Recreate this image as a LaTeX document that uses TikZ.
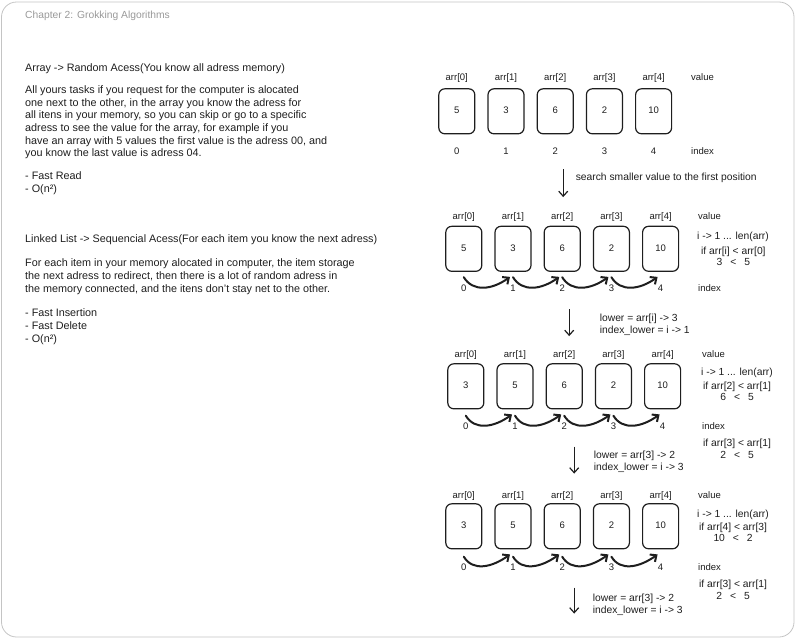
\documentclass[tikz,border=0pt]{standalone}
\usepackage{fontspec}
\setmainfont{Liberation Sans}
\usetikzlibrary{matrix,arrows.meta,backgrounds,positioning}

\definecolor{ink}{HTML}{1E1E1E}
\definecolor{framegray}{HTML}{C4C4C4}

\tikzset{
  note/.style={anchor=north west, inner sep=0pt, align=left, text=ink,
    font=\fontsize{10.8}{12.7}\selectfont},
  small/.style={inner sep=0pt, align=left, text=ink,
    font=\fontsize{10.3}{11.8}\selectfont},
  cell/.style={draw=ink, line width=1.2pt, rounded corners=6pt,
    minimum width=36pt, minimum height=45pt},
  arr/.style={matrix of nodes, anchor=north west, inner sep=0pt,
    column sep=12pt, row sep=3pt,
    nodes={text=ink, font=\fontsize{9.5}{11}\selectfont, inner sep=1pt,
      text height=7pt, text depth=2pt},
    row 2/.style={nodes={cell}}},
  swoosh/.style={->, line width=2pt, line cap=round, draw=ink},
  down/.style={->, line width=1.2pt, draw=ink},
}

\begin{document}
\begin{tikzpicture}[x=1pt, y=1pt, >={Straight Barb[length=5pt, width=9pt]}]
  \useasboundingbox (0,0) rectangle (796,-640);
  \draw[framegray, line width=0.8pt, rounded corners=15pt] (1.5,-2) rectangle (794,-637);

  % left column
  \node[note, text=gray!80, font=\fontsize{10.3}{12}\selectfont] (title) at (25,-11) {Chapter 2: Grokking Algorithms};

  \node[note] (arrtxt) at (25,-63) {Array -> Random Acess(You know all adress memory)\\[9.7pt]
    All yours tasks if you request for the computer is alocated\\
    one next to the other, in the array you know the adress for\\
    all itens in your memory, so you can skip or go to a specific\\
    adress to see the value for the array, for example if you\\
    have an array with 5 values the first value is the adress 00, and\\
    you know the last value is adress 04.\\[10pt]
    - Fast Read\\
    - O(n²)};

  \node[note] (listtxt) at (25,-234) {Linked List -> Sequencial Acess(For each item you know the next adress)\\[12pt]
    For each item in your memory alocated in computer, the item storage\\
    the next adress to redirect, then there is a lot of random adress in\\
    the memory connected, and the itens don't stay net to the other.\\[12pt]
    - Fast Insertion\\
    - Fast Delete\\
    - O(n²)};

  % array before the search
  \matrix (a1) [arr] at (438,-72.5) {
    arr[0] & arr[1] & arr[2] & arr[3] & arr[4] &[6pt] value \\[1.5pt]
    5 & 3 & 6 & 2 & 10 \\[9pt]
    0 & 1 & 2 & 3 & 4 & index \\
  };
  \draw[down] ([xshift=8pt,yshift=-11.5pt]a1-3-3.south) -- ++(0,-28)
    node[small, pos=0.3, right=12pt] {search smaller value to the first position};

  % step i = 1
  \matrix (a2) [arr] at (445,-211.5) {
    arr[0] & arr[1] & arr[2] & arr[3] & arr[4] &[6pt] value \\
    5 & 3 & 6 & 2 & 10 \\[8.5pt]
    0 & 1 & 2 & 3 & 4 & index \\
  };
  \node[small, below=13.5pt of a2-1-6.south west, anchor=west] (loop2) {i -> 1 ... len(arr)};
  \node[small, align=center, below=5pt of loop2.south west, anchor=north west, xshift=4pt] (test2) {if arr[i] < arr[0]\\3\hspace{8pt}<\hspace{8pt}5};
  \foreach \i/\j in {1/2,2/3,3/4,4/5}
    \draw[swoosh] ([xshift=0pt,yshift=6pt]a2-3-\i.north) .. controls +(9,-15) and +(-18,-13) .. ([xshift=-3pt,yshift=-5pt]a2-2-\j.south);
  \draw[down] ([xshift=7pt,yshift=-14.5pt]a2-3-3.south) -- ++(0,-27)
    node[small, pos=0.57, right=30pt] {lower = arr[i] -> 3\\index\_lower = i -> 1};

  % step i = 2, 3
  \matrix (a3) [arr] at (447,-349.5) {
    arr[0] & arr[1] & arr[2] & arr[3] & arr[4] &[8pt] value \\[-0.5pt]
    3 & 5 & 6 & 2 & 10 \\[9.5pt]
    0 & 1 & 2 & 3 & 4 & index \\
  };
  \node[small, below=11.5pt of a3-1-6.south west, anchor=west] (loop3) {i -> 1 ... len(arr)};
  \node[small, align=center, below=4pt of loop3.south west, anchor=north west, xshift=2pt] (test3) {if arr[2] < arr[1]\\6\hspace{8pt}<\hspace{8pt}5};
  \node[small, align=center, below=6pt of a3-3-6.south west, anchor=north west, xshift=2pt] (test3b) {if arr[3] < arr[1]\\2\hspace{8pt}<\hspace{8pt}5};
  \foreach \i/\j in {1/2,2/3,3/4,4/5}
    \draw[swoosh] ([xshift=0pt,yshift=6pt]a3-3-\i.north) .. controls +(9,-15) and +(-18,-13) .. ([xshift=-3pt,yshift=-5pt]a3-2-\j.south);
  \draw[down] ([xshift=10pt,yshift=-13.5pt]a3-3-3.south) -- ++(0,-27)
    node[small, pos=0.57, right=19pt] {lower = arr[3] -> 2\\index\_lower = i -> 3};

  % step i = 4
  \matrix (a4) [arr] at (445,-490.5) {
    arr[0] & arr[1] & arr[2] & arr[3] & arr[4] &[6pt] value \\[-1.5pt]
    3 & 5 & 6 & 2 & 10 \\[10.5pt]
    0 & 1 & 2 & 3 & 4 & index \\
  };
  \node[small, below=12.5pt of a4-1-6.south west, anchor=west] (loop4) {i -> 1 ... len(arr)};
  \node[small, align=center, below=3pt of loop4.south west, anchor=north west, xshift=2pt] (test4) {if arr[4] < arr[3]\\10\hspace{8pt}<\hspace{8pt}2};
  \node[small, align=center, below=6pt of a4-3-6.south west, anchor=north west, xshift=2pt] (test4b) {if arr[3] < arr[1]\\2\hspace{8pt}<\hspace{8pt}5};
  \foreach \i/\j in {1/2,2/3,3/4,4/5}
    \draw[swoosh] ([xshift=0pt,yshift=6pt]a4-3-\i.north) .. controls +(9,-15) and +(-18,-13) .. ([xshift=-3pt,yshift=-5pt]a4-2-\j.south);
  \draw[down] ([xshift=12pt,yshift=-13.5pt]a4-3-3.south) -- ++(0,-26)
    node[small, pos=0.65, right=18pt] {lower = arr[3] -> 2\\index\_lower = i -> 3};
\end{tikzpicture}
\end{document}
